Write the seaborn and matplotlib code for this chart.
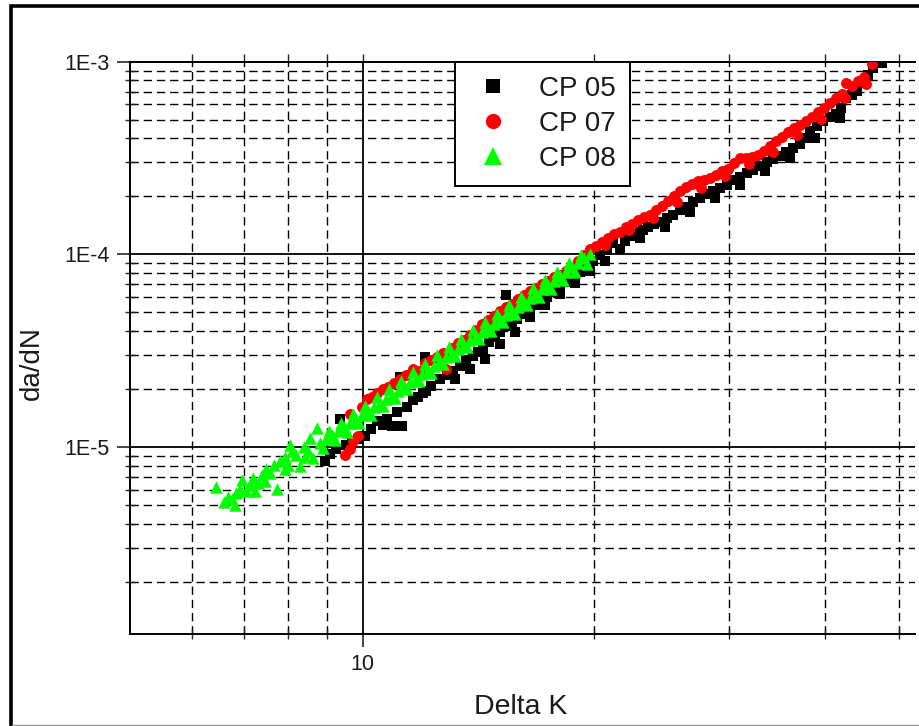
import matplotlib
matplotlib.use("Agg")
import matplotlib.pyplot as plt
from matplotlib.lines import Line2D
from matplotlib.patches import Rectangle
from matplotlib.ticker import FixedLocator, FixedFormatter, NullFormatter
import pandas as pd
import seaborn as sns

# ---- crack growth data: stress intensity range vs growth rate ----
labels = ["CP 05", "CP 07", "CP 08"]

cp05_dk = [8.93, 9.07, 9.23, 9.34, 9.51, 9.68, 9.86, 10.07, 10.25, 10.44,
           10.63, 10.76, 10.92, 11.08, 11.25, 11.18, 11.42, 11.63, 11.80, 11.98,
           12.05, 12.09, 12.27, 12.61, 12.88, 13.11, 13.39, 13.63, 13.92, 14.13,
           14.34, 14.60, 14.87, 15.10, 15.42, 15.37, 15.65, 15.89, 16.17, 16.52,
           16.77, 17.02, 17.38, 17.70, 18.07, 18.45, 18.79, 19.19, 19.59, 19.94,
           20.37, 20.80, 21.18, 21.63, 21.96, 22.29, 22.76, 23.17, 23.52, 23.95,
           24.38, 24.90, 25.35, 25.89, 26.44, 26.92, 27.49, 28.07, 28.58, 29.19,
           29.81, 30.35, 30.99, 31.65, 32.22, 32.92, 33.61, 34.22, 34.94, 35.57,
           36.33, 37.10, 37.77, 38.23, 39.04, 39.75, 40.59, 41.33, 41.95, 42.58,
           43.36, 44.00, 44.80, 45.48, 46.17, 47.45,
           13.19, 13.79, 14.43, 15.10, 15.79, 16.52, 17.28, 18.07, 18.90, 19.77,
           20.68, 22.97, 24.75, 26.68, 28.75, 30.99, 33.41, 36.00, 38.80, 41.83]
cp05_dadn = [8.42e-6, 9.16e-6, 9.73e-6, 1.39e-5, 1.02e-5, 1.07e-5, 1.10e-5, 1.14e-5, 1.24e-5, 1.36e-5,
             1.30e-5, 1.39e-5, 1.28e-5, 1.52e-5, 1.28e-5, 2.31e-5, 1.61e-5, 1.75e-5, 1.82e-5, 1.90e-5,
             2.93e-5, 1.95e-5, 2.07e-5, 2.25e-5, 2.36e-5, 2.48e-5, 2.63e-5, 2.80e-5, 2.97e-5, 3.11e-5,
             3.23e-5, 3.51e-5, 3.73e-5, 3.96e-5, 4.25e-5, 6.17e-5, 4.46e-5, 4.63e-5, 4.91e-5, 5.21e-5,
             5.47e-5, 5.67e-5, 6.02e-5, 6.39e-5, 6.79e-5, 7.21e-5, 7.65e-5, 8.13e-5, 8.84e-5, 9.27e-5,
             9.87e-5, 1.05e-4, 1.14e-4, 1.07e-4, 1.18e-4, 1.24e-4, 1.30e-4, 1.34e-4, 1.38e-4, 1.43e-4,
             1.48e-4, 1.55e-4, 1.61e-4, 1.69e-4, 1.77e-4, 1.86e-4, 1.95e-4, 2.05e-4, 2.12e-4, 2.20e-4,
             2.28e-4, 2.42e-4, 2.51e-4, 2.63e-4, 2.73e-4, 2.86e-4, 3.00e-4, 3.11e-4, 3.23e-4, 3.39e-4,
             3.55e-4, 3.73e-4, 4.01e-4, 4.36e-4, 4.63e-4, 4.91e-4, 5.15e-4, 5.38e-4, 5.74e-4, 6.47e-4,
             6.71e-4, 7.04e-4, 7.84e-4, 8.52e-4, 9.27e-4, 9.84e-4,
             2.25e-5, 2.54e-5, 2.86e-5, 3.43e-5, 3.96e-5, 4.73e-5, 5.47e-5, 6.24e-5, 7.12e-5, 8.22e-5,
             9.27e-5, 1.21e-4, 1.39e-4, 1.65e-4, 1.95e-4, 2.28e-4, 2.70e-4, 3.15e-4, 4.01e-4, 5.09e-4]

cp07_dk = [9.48, 9.63, 9.71, 9.86, 9.63, 9.98, 10.13, 10.28, 10.44, 10.63,
           10.79, 10.98, 11.18, 11.39, 11.63, 11.84, 12.05, 12.27, 12.49, 12.72,
           12.84, 13.07, 13.31, 13.55, 13.79, 14.05, 14.30, 14.56, 14.83, 15.10,
           15.37, 15.65, 15.93, 16.22, 16.52, 16.82, 17.12, 17.43, 17.75, 18.07,
           18.40, 18.73, 19.07, 19.42, 19.77, 20.13, 20.49, 20.86, 21.24, 21.63,
           22.02, 22.42, 22.83, 23.24, 23.66, 24.09, 24.53, 24.97, 25.43, 25.89,
           26.36, 26.84, 27.33, 27.82, 28.33, 28.84, 29.37, 29.90, 30.44, 30.99,
           31.56, 32.13, 32.71, 33.30, 33.90, 34.52, 35.14, 35.78, 36.43, 37.10,
           37.77, 38.46, 39.15, 39.86, 40.59, 41.33, 42.08, 42.58, 43.36, 44.14,
           44.94, 46.03,
           20.68, 22.22, 23.88, 25.66, 27.57, 29.63, 31.84, 34.21, 36.76, 39.51,
           42.46, 45.22]
cp07_dadn = [9.05e-6, 9.73e-6, 1.08e-5, 1.14e-5, 1.48e-5, 1.61e-5, 1.77e-5, 1.82e-5, 1.90e-5, 2.00e-5,
             2.05e-5, 2.15e-5, 2.25e-5, 2.36e-5, 2.54e-5, 2.48e-5, 2.73e-5, 2.83e-5, 2.93e-5, 3.08e-5,
             2.54e-5, 3.27e-5, 3.47e-5, 3.59e-5, 3.82e-5, 4.05e-5, 4.36e-5, 4.57e-5, 4.79e-5, 5.09e-5,
             5.34e-5, 5.54e-5, 5.88e-5, 6.17e-5, 6.47e-5, 6.71e-5, 7.04e-5, 7.29e-5, 7.65e-5, 7.84e-5,
             8.22e-5, 8.63e-5, 9.27e-5, 9.96e-5, 1.07e-4, 1.11e-4, 1.16e-4, 1.22e-4, 1.27e-4, 1.31e-4,
             1.38e-4, 1.43e-4, 1.50e-4, 1.57e-4, 1.61e-4, 1.69e-4, 1.79e-4, 1.90e-4, 2.02e-4, 2.12e-4,
             2.23e-4, 2.31e-4, 2.39e-4, 2.42e-4, 2.48e-4, 2.57e-4, 2.70e-4, 2.79e-4, 2.97e-4, 3.15e-4,
             3.15e-4, 3.19e-4, 3.27e-4, 3.43e-4, 3.64e-4, 3.86e-4, 4.05e-4, 4.30e-4, 4.52e-4, 4.68e-4,
             4.91e-4, 5.15e-4, 5.47e-4, 5.74e-4, 6.09e-4, 6.47e-4, 6.79e-4, 7.75e-4, 7.47e-4, 7.93e-4,
             8.32e-4, 9.72e-4,
             1.12e-4, 1.33e-4, 1.55e-4, 1.86e-4, 2.20e-4, 2.54e-4, 2.93e-4, 3.39e-4, 4.15e-4, 5.03e-4,
             6.47e-4, 7.66e-4]

cp08_dk = [6.44, 6.60, 6.68, 6.76, 6.84, 6.92, 6.96, 7.05, 7.13, 7.20,
           7.31, 7.39, 7.48, 7.57, 7.66, 7.73, 7.80, 7.92, 7.99, 8.09,
           8.19, 8.29, 8.39, 8.49, 8.62, 8.72, 8.80, 8.96, 9.12, 9.29,
           9.45, 9.63, 9.80, 9.98, 10.16, 10.34, 10.53, 10.72, 10.92, 11.11,
           11.32, 11.52, 11.73, 11.95, 12.16, 12.38, 12.61, 12.84, 13.07, 13.31,
           13.55, 13.79, 14.05, 14.30, 14.56, 14.83, 15.10, 15.37, 15.65, 15.93,
           16.22, 16.52, 16.82, 17.12, 17.43, 17.75, 18.07, 18.40, 18.73, 19.07,
           19.42, 19.77,
           8.88, 9.04, 9.20, 9.37, 9.54, 9.71, 9.89, 10.07, 10.25, 10.44,
           10.63, 10.82, 11.02, 11.22, 11.42, 11.63, 11.84, 12.05, 12.27, 12.50,
           12.72, 12.96, 13.19, 13.43, 13.67, 13.92, 14.17, 14.43, 14.69, 14.96,
           15.23, 15.50, 15.79, 16.07, 16.37, 16.66, 16.97, 17.28, 17.59, 17.91,
           18.23, 18.56, 18.90, 19.24, 19.59,
           6.82, 7.24, 7.46, 7.92, 8.41, 8.54, 8.04]
cp08_dadn = [6.17e-6, 5.21e-6, 5.47e-6, 5.34e-6, 5.74e-6, 6.02e-6, 6.71e-6, 5.88e-6, 6.32e-6, 6.87e-6,
             6.47e-6, 7.12e-6, 7.65e-6, 7.29e-6, 8.03e-6, 6.02e-6, 8.42e-6, 8.84e-6, 8.03e-6, 9.50e-6,
             9.05e-6, 7.93e-6, 9.96e-6, 9.50e-6, 8.73e-6, 1.25e-5, 1.05e-5, 1.10e-5, 1.15e-5, 1.21e-5,
             1.27e-5, 1.33e-5, 1.39e-5, 1.46e-5, 1.53e-5, 1.61e-5, 1.69e-5, 1.77e-5, 1.86e-5, 1.95e-5,
             2.07e-5, 2.17e-5, 2.28e-5, 2.39e-5, 2.51e-5, 2.63e-5, 2.80e-5, 2.93e-5, 3.08e-5, 3.23e-5,
             3.39e-5, 3.59e-5, 3.77e-5, 3.96e-5, 4.15e-5, 4.36e-5, 4.63e-5, 4.85e-5, 5.09e-5, 5.34e-5,
             5.67e-5, 5.95e-5, 6.24e-5, 6.63e-5, 6.95e-5, 7.29e-5, 7.75e-5, 8.13e-5, 8.63e-5, 9.05e-5,
             9.61e-5, 1.01e-4,
             9.84e-6, 1.21e-5, 1.09e-5, 1.34e-5, 1.20e-5, 1.48e-5, 1.33e-5, 1.64e-5, 1.47e-5, 1.81e-5,
             1.63e-5, 2.00e-5, 1.80e-5, 2.21e-5, 1.99e-5, 2.44e-5, 2.20e-5, 2.70e-5, 2.43e-5, 2.99e-5,
             2.69e-5, 3.30e-5, 2.97e-5, 3.65e-5, 3.29e-5, 4.04e-5, 3.63e-5, 4.46e-5, 4.01e-5, 4.93e-5,
             4.44e-5, 5.45e-5, 4.90e-5, 6.03e-5, 5.43e-5, 6.67e-5, 5.99e-5, 7.36e-5, 6.63e-5, 8.14e-5,
             7.33e-5, 9.00e-5, 8.10e-5, 9.95e-5, 8.96e-5,
             5.03e-6, 5.88e-6, 6.63e-6, 7.65e-6, 8.84e-6, 1.12e-5, 1.03e-5]

x_major = [10]
x_minor = [6, 7, 8, 9, 20, 30, 40, 50]
x_major_labels = ["10"]
y_major = [1e-5, 1e-4, 1e-3]
y_major_labels = ["1E-5", "1E-4", "1E-3"]
y_minor = [m * 10.0 ** e for e in (-6, -5, -4) for m in range(2, 10)]

colors = ["#000000", "#ff0000", "#00ff00"]
markers = ["s", "o", "^"]

df = pd.concat([
    pd.DataFrame({"Delta K": cp05_dk, "da/dN": cp05_dadn, "specimen": labels[0]}),
    pd.DataFrame({"Delta K": cp07_dk, "da/dN": cp07_dadn, "specimen": labels[1]}),
    pd.DataFrame({"Delta K": cp08_dk, "da/dN": cp08_dadn, "specimen": labels[2]}),
], ignore_index=True)

sns.set_style("white")
plt.rcParams["font.family"] = ["Liberation Sans", "DejaVu Sans"]
text_color = "#1a1a1a"

fig = plt.figure(figsize=(9.2, 7.26), dpi=100)
W, H = 920.0, 726.0
ax = fig.add_axes([130 / W, 1 - 634 / H, (915 - 130) / W, (634 - 61.7) / H])

sizes = [58, 62, 80]
for lab, col, mk, sz in zip(labels, colors, markers, sizes):
    sns.scatterplot(data=df[df["specimen"] == lab], x="Delta K", y="da/dN",
                    marker=mk, color=col, s=sz, linewidth=0, ax=ax,
                    legend=False, zorder=3)

ax.set_xscale("log")
ax.set_yscale("log")
ax.set_xlim(4.98, 52.4)
ax.set_ylim(1.07e-6, 1e-3)

ax.xaxis.set_major_locator(FixedLocator(x_major))
ax.xaxis.set_major_formatter(FixedFormatter(x_major_labels))
ax.xaxis.set_minor_locator(FixedLocator(x_minor))
ax.xaxis.set_minor_formatter(NullFormatter())
ax.yaxis.set_major_locator(FixedLocator(y_major))
ax.yaxis.set_major_formatter(FixedFormatter(y_major_labels))
ax.yaxis.set_minor_locator(FixedLocator(y_minor))
ax.yaxis.set_minor_formatter(NullFormatter())

ax.set_axisbelow(True)
ax.grid(which="major", color="black", lw=1.3, ls="-")
ax.grid(which="minor", color="black", lw=1.0, ls=(0, (6, 3.5)))

ax.tick_params(which="both", left=True, bottom=True, right=False, top=False)
ax.tick_params(which="major", direction="out", length=9.5, width=1.2,
               labelsize=15.5, labelcolor=text_color, pad=5)
ax.tick_params(which="minor", direction="inout", length=7.5, width=1.0)

for side in ("left", "bottom", "top"):
    ax.spines[side].set_visible(True)
    ax.spines[side].set_color("black")
    ax.spines[side].set_linewidth(1.4)
ax.spines["right"].set_visible(False)

top = ax.secondary_xaxis("top")
top.xaxis.set_major_locator(FixedLocator(x_major))
top.xaxis.set_minor_locator(FixedLocator(x_minor))
top.xaxis.set_major_formatter(NullFormatter())
top.xaxis.set_minor_formatter(NullFormatter())
top.tick_params(which="both", top=True, direction="out", length=6, width=1.0)
top.spines["top"].set_linewidth(1.4)

ax.set_xlabel("")
ax.set_ylabel("")
fig.text(32 / W, 1 - 363 / H, "da/dN", rotation=90, ha="center", va="center",
         fontsize=20, color=text_color)
fig.text(521 / W, 1 - 707 / H, "Delta K", ha="center", va="center",
         fontsize=20.5, color=text_color)

handles = [Line2D([], [], ls="none", marker=m, color=c, markersize=ms, markeredgewidth=0)
           for m, c, ms in zip(markers, colors, [10, 11, 13])]
leg = ax.legend(handles, labels, loc="upper left",
                bbox_to_anchor=(455 / W, 1 - 61.7 / H), bbox_transform=fig.transFigure,
                frameon=True, fancybox=False, edgecolor="black", framealpha=1,
                fontsize=20, borderpad=0.5, labelspacing=0.33, handlelength=1.74,
                handletextpad=0.8, borderaxespad=0)
leg.get_frame().set_linewidth(1.4)
for t in leg.get_texts():
    t.set_color(text_color)
leg.set_zorder(10)

# outer frame around the whole figure
fig.add_artist(Rectangle((11 / W, -0.02), 1.1, 1.02 - 6.5 / H,
                         transform=fig.transFigure, fill=False,
                         edgecolor="black", lw=2.6))
fig.add_artist(Line2D([12 / W, 1], [0.8 / H, 0.8 / H], transform=fig.transFigure,
                      color="#9a9a9a", lw=1.0))

fig.savefig("out.png", dpi=100, facecolor="white")
